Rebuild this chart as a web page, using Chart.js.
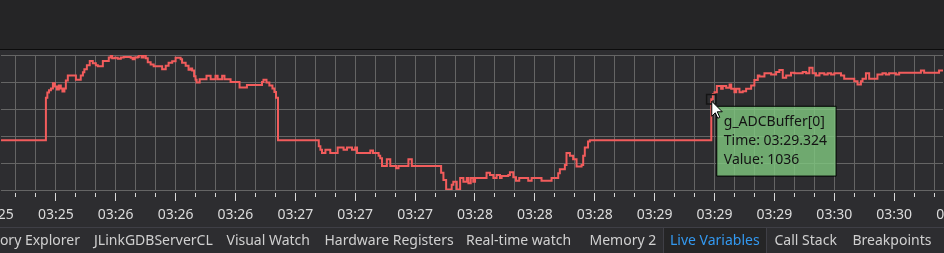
<!DOCTYPE html>
<html><head><meta charset="utf-8">
<script src="https://cdn.jsdelivr.net/npm/chart.js@4.4.1/dist/chart.umd.min.js"></script>
<style>
html,body{margin:0;padding:0;background:#2d2d30;overflow:hidden;width:944px;height:253px;font-family:"Noto Sans",sans-serif;}
#topband{position:absolute;left:0;top:0;width:944px;height:49px;background:#252526;}
#topline{position:absolute;left:0;top:49px;width:944px;height:1px;background:#0c0c0c;}
#wrap{position:absolute;left:0;top:0;width:944px;height:228px;}
#tabs{position:absolute;left:0;top:227px;width:944px;height:26px;border-top:1px solid #3f3f46;}
#selbox{position:absolute;left:663px;top:-1px;width:102px;height:27px;background:#252526;border:1px solid #3f3f46;border-bottom:none;}
.tab{position:absolute;top:3px;font-size:14px;line-height:18px;color:#d0d0d0;white-space:nowrap;}
.tab.sel{color:#3399f0;}
</style></head>
<body>
<div id="topband"></div><div id="topline"></div>
<div id="wrap"><canvas id="c" width="944" height="228"></canvas></div>
<div id="tabs"><div id="selbox"></div></div>
<script>
// ---- data ----
const seriesName = 'g_ADCBuffer[0]';
const sampleTimesMs = [
 205270,205620,205628,205637,205648,205659,205670,205681,205692,205703,205712,205723,205731,205742,205787,205814,205826,205834,205848,205864,205881,205898,205909,205937,205970,205981,205989,206003,206020,206037,206053,206092,206103,206114,206131,206137,206153,206164,206176,206187,206203,206220,
 206267,206287,206303,206323,206342,206370,206378,206398,206414,206426,206434,206445,206453,206459,206476,206514,206537,206564,206576,206601,206614,206648,206698,206739,206823,206831,206848,206864,206881,206892,206901,206912,207139,
 207148,207157,207176,207203,207244,207277,207296,207324,207342,207352,207426,207441,207472,207481,207491,207518,207537,207570,207583,207638,207657,207820,207833,207848,207879,207888,207907,207926,207944,207963,207972,207985,207999,208009,
 208073,208092,208111,208129,208148,208157,208194,208203,208222,208237,208255,208305,208324,208379,208435,208472,208481,208509,208518,208537,208555,208574,208602,208611,208620,208638,208648,
 209324,209333,209342,209355,209379,209388,209407,209426,209435,209453,209463,209481,209499,209518,209546,209564,209583,209592,209620,209657,209685,209703,209722,209741,209768,209787,
 209833,209852,209870,209888,209907,209926,209953,209972,209991,210009,210046,210064,210120,210138,210157,210166,210185,210203,210249,210277,210296,210314,210352,210370,210491,210509,210592,210676
];
const sampleValues = [
 884,1042,1061,1069,1076,1095,1083,1072,1087,1076,1065,1076,1106,1124,1108,1124,1136,1147,1162,1178,1169,1162,1158,1178,1191,1199,1188,1190,1186,1191,1193,1190,1184,1191,1193,1199,1191,1199,1188,1173,1165,1158,
 1147,1160,1171,1177,1190,1184,1171,1160,1145,1150,1143,1121,1108,1098,1110,1123,1110,1123,1110,1123,1110,1100,1080,1089,1100,1108,1098,1087,1076,1063,1042,884,862,
 849,837,849,837,857,849,857,849,857,837,846,837,827,818,789,814,789,781,789,814,789,764,737,702,719,731,702,744,731,744,725,744,731,744,
 764,756,744,756,744,752,756,766,747,734,744,734,744,734,744,762,777,793,837,827,814,787,793,827,857,880,884,
 1036,1056,1062,1085,1075,1085,1079,1091,1075,1062,1075,1062,1066,1075,1087,1107,1124,1120,1132,1128,1137,1144,1116,1124,1134,1132,
 1137,1132,1153,1132,1124,1132,1128,1132,1128,1132,1124,1112,1103,1091,1103,1112,1132,1112,1128,1132,1128,1132,1128,1134,1143,1134,1143,1143
];
const tickLabels = ['03:25','03:25','03:26','03:26','03:26','03:27','03:27','03:27','03:28','03:28','03:28','03:29','03:29','03:29','03:30','03:30','03:30'];
const firstLabelTickMs = 205342;
const labelStepMs = 1000 / 3;
const minorPerLabel = 3;
const viewStartMs = 205370;
const viewEndMs = 210614;
const yMin = 700, yMax = 1200, yStep = 100;
const hoveredTimeMs = 209324;
const tabNames = ['Memory Explorer','JLinkGDBServerCL','Visual Watch','Hardware Registers','Real-time watch','Memory 2','Live Variables','Call Stack','Breakpoints'];
const selectedTab = 'Live Variables';

// ---- tabs (UI chrome) ----
const tabLeft = [null,94,226.5,324.5,466,589.5,670,774.5,852.5];
const tabsDiv = document.getElementById('tabs');
tabNames.forEach((n,i)=>{
  const d=document.createElement('div');
  d.className='tab'+(n===selectedTab?' sel':'');
  d.textContent=n;
  if(tabLeft[i]===null){ d.style.right=(944-80)+'px'; } else { d.style.left=tabLeft[i]+'px'; }
  tabsDiv.appendChild(d);
});

function fmtTime(ms){
  const m=Math.floor(ms/60000);
  const s=(ms%60000)/1000;
  return String(m).padStart(2,'0')+':'+s.toFixed(3).padStart(6,'0');
}

Chart.defaults.font.family='"Noto Sans", sans-serif';
Chart.defaults.font.size=14;

Chart.Tooltip.positioners.belowRight=function(items){
  if(!items.length) return false;
  const el=items[0].element;
  return {x:el.x+5,y:el.y+7,xAlign:'left',yAlign:'top'};
};

const cursorPlugin={
  id:'cursor',
  afterDraw(chart){
    const act=chart.getActiveElements();
    if(!act.length) return;
    const el=act[0].element;
    const ctx=chart.ctx;
    const x=el.x+0.5, y=el.y+2;
    ctx.save();
    ctx.beginPath();
    ctx.moveTo(x,y);
    ctx.lineTo(x,y+15);
    ctx.lineTo(x+3.5,y+11.5);
    ctx.lineTo(x+6,y+17);
    ctx.lineTo(x+8,y+16);
    ctx.lineTo(x+5.5,y+10.5);
    ctx.lineTo(x+10.5,y+10.5);
    ctx.closePath();
    ctx.fillStyle='#ffffff';
    ctx.fill();
    ctx.strokeStyle='#000000';
    ctx.lineWidth=1;
    ctx.stroke();
    ctx.restore();
  }
};

const points=sampleTimesMs.map((t,i)=>({x:t,y:sampleValues[i]}));

const chart=new Chart(document.getElementById('c'),{
  type:'line',
  data:{datasets:[{
    label:seriesName,
    data:points,
    stepped:true,
    borderColor:'#f25c5c',
    borderWidth:2,
    pointRadius:0,
    pointHoverRadius:6.6,
    pointStyle:'rect',
    pointHoverBorderWidth:1.5,
    pointHoverBorderColor:'#141414',
    pointHoverBackgroundColor:'rgba(0,0,0,0)',
    fill:false
  }]},
  options:{
    responsive:false,
    animation:false,
    events:[],
    layout:{padding:{top:55,left:0,right:0,bottom:0}},
    plugins:{
      legend:{display:false},
      tooltip:{
        enabled:true,
        position:'belowRight',
        xAlign:'left',yAlign:'top',
        backgroundColor:'rgba(128,200,128,0.8)',
        borderColor:'#000000',
        borderWidth:1,
        cornerRadius:0,
        caretSize:0,
        caretPadding:0,
        displayColors:false,
        titleColor:'#141414',
        bodyColor:'#141414',
        titleFont:{size:14,weight:'normal',lineHeight:1.2},
        bodyFont:{size:14,weight:'normal',lineHeight:1.2},
        titleMarginBottom:2.2,
        bodySpacing:2.2,
        padding:{top:7,bottom:8,left:7,right:9},
        callbacks:{
          title:()=>seriesName,
          label:(ctx)=>['Time: '+fmtTime(ctx.parsed.x),'Value: '+ctx.parsed.y]
        }
      }
    },
    scales:{
      x:{
        type:'linear',
        min:viewStartMs,max:viewEndMs,
        afterBuildTicks(scale){
          const t=[];
          const n=(tickLabels.length-1)*minorPerLabel;
          for(let j=0;j<=n;j++) t.push({value:firstLabelTickMs+j*labelStepMs/minorPerLabel, major:j%minorPerLabel===0});
          scale.ticks=t;
        },
        afterFit(scale){scale.height=38;scale.paddingLeft=0;scale.paddingRight=0;},
        grid:{
          color:'#656565',lineWidth:1,
          drawTicks:true,tickLength:11,tickColor:'#d8d8d8',tickWidth:1,
          tickBorderDash:(ctx)=> (ctx.index%minorPerLabel===0)?[0,2,9,40]:[0,2,4,40]
        },
        border:{display:true,color:'#656565',width:1},
        ticks:{
          autoSkip:false,maxRotation:0,minRotation:0,padding:6,color:'#dcdcdc',
          font:{size:14},
          callback:(v,i)=> (i%minorPerLabel===0)?tickLabels[i/minorPerLabel]:''
        }
      },
      y:{
        type:'linear',
        min:yMin,max:yMax,
        ticks:{display:false,stepSize:yStep},
        grid:{color:'#656565',drawTicks:false,lineWidth:1},
        border:{display:false},
        afterFit(scale){scale.width=0;}
      }
    }
  },
  plugins:[cursorPlugin]
});

const hi=sampleTimesMs.indexOf(hoveredTimeMs);
chart.setActiveElements([{datasetIndex:0,index:hi}]);
chart.tooltip.setActiveElements([{datasetIndex:0,index:hi}],{x:0,y:0});
chart.update();
</script>
</body></html>
